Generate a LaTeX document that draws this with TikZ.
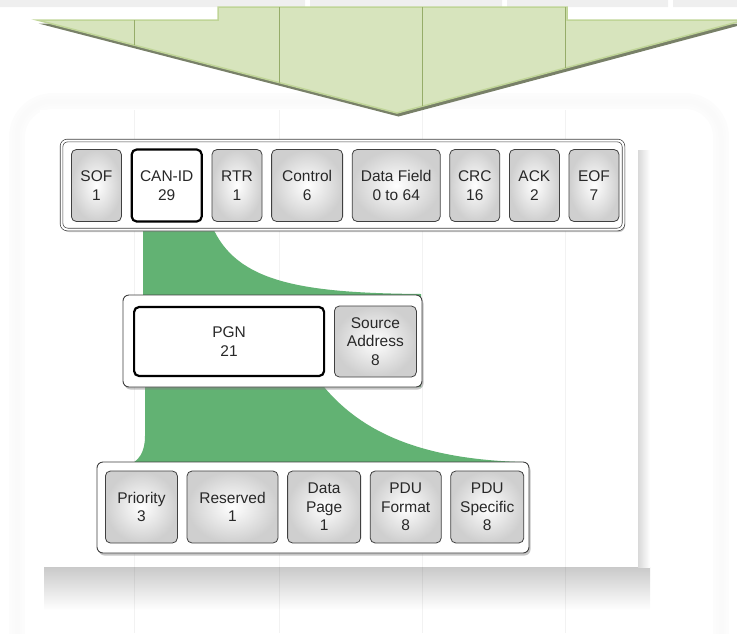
\documentclass[tikz,border=0pt]{standalone}
\usepackage{fontspec}
\setmainfont{Liberation Sans}
\usetikzlibrary{positioning, shadows}
\definecolor{bandGrey}{RGB}{239, 239, 239}
\definecolor{arrowFill}{RGB}{215, 228, 189}
\definecolor{arrowEdge}{RGB}{192, 213, 152}
\definecolor{arrowLine}{RGB}{150, 172, 105}
\definecolor{arrowShadow}{RGB}{120, 128, 104}
\definecolor{zoomGreen}{RGB}{98, 178, 115}
\definecolor{fieldText}{RGB}{40, 40, 40}

\begin{document}
\begin{tikzpicture}[
    x=1pt, y=-1pt,
    node distance=8.8pt,
    cell/.style={
        rectangle,
        rounded corners=5pt,
        align=center,
        inner sep=0pt,
        font=\fontsize{15.5}{18.5}\selectfont,
        text=fieldText
    },
    field/.style={
        cell,
        draw=black!75,
        line width=0.8pt,
        inner color=white,
        outer color=gray!38,
        minimum height=72pt
    },
    keyfield/.style={
        cell,
        draw=black,
        line width=2.2pt,
        fill=white,
        minimum height=72pt
    },
    panel/.style={
        rectangle,
        rounded corners=6pt,
        draw=black!75,
        line width=0.9pt,
        fill=white,
        drop shadow={shadow xshift=1.5pt, shadow yshift=-2.5pt, opacity=0.45}
    }
]
\useasboundingbox (0,0) rectangle (737,633);

% Slide background
\fill[bandGrey] (0,0) rectangle (305,7) (310,0) rectangle (502,7)
    (507,0) rectangle (668,7) (673,0) rectangle (737,7);
\foreach \w/\c in {16/2, 9/3, 4/4}
    \draw[gray!\c, line width=\w pt, rounded corners=36pt] (17,101) rectangle (721,700);

% Figure with its shadow
\shade[top color=gray!42, middle color=gray!14, bottom color=white] (44,567) rectangle (650,610);
\shade[left color=gray!30, right color=white] (638,150) rectangle (650,567);
\fill[white] (40,110) rectangle (638,567);
\foreach \x in {134, 279, 422, 565}
    \draw[black, opacity=0.05, line width=0.8pt] (\x,110) -- (\x,633);

% Down arrow
\fill[arrowShadow, xshift=1.5pt, yshift=-3.5pt] (37,20) -- (397,113) -- (745,20) -- cycle;
\filldraw[fill=arrowFill, draw=arrowEdge, line width=1.5pt]
    (218,7) -- (567,7) -- (567,20) -- (745,20) -- (397,113) -- (37,20) -- (218,20) -- cycle;
\begin{scope}
    \clip (218,7) -- (567,7) -- (567,20) -- (745,20) -- (397,113) -- (37,20) -- (218,20) -- cycle;
    \foreach \x in {134, 279, 422, 565}
        \draw[arrowLine, line width=0.6pt] (\x,7) -- (\x,120);
\end{scope}

% Zoom band
\fill[zoomGreen] (143,226) -- (212,226) .. controls (236,282) and (300,293) .. (421,294)
    -- (421,387) -- (324,387) .. controls (362,432) and (420,459) .. (522,462)
    -- (522,466) -- (126,466) .. controls (139,462) and (145,452) .. (145,436)
    -- (145,300) -- (143,300) -- cycle;

% Panels
\node[panel, double=white, double distance=2pt, line width=0.7pt,
      minimum width=562pt, minimum height=89pt] (canframe) at (342.5,185) {};
\node[panel, minimum width=299pt, minimum height=92pt] (idframe) at (272.5,341) {};
\node[panel, minimum width=432pt, minimum height=91pt] (pgnframe) at (313,507.5) {};

% CAN frame fields
\node[field, anchor=west, minimum width=50pt] (sof) at (71,185.5) {SOF\\1};
\node[keyfield, right=of sof, minimum width=70pt] (canid) {CAN-ID\\29};
\node[field, right=of canid, minimum width=50pt] (rtr) {RTR\\1};
\node[field, right=of rtr, minimum width=71pt] (control) {Control\\6};
\node[field, right=of control, minimum width=88pt] (data) {Data Field\\0 to 64};
\node[field, right=of data, minimum width=50pt] (crc) {CRC\\16};
\node[field, right=of crc, minimum width=50pt] (ack) {ACK\\2};
\node[field, right=of ack, minimum width=50pt] (eof) {EOF\\7};

% Identifier fields
\node[keyfield, anchor=west, minimum width=190pt, minimum height=69pt] (pgn) at (133,341.5) {PGN\\21};
\node[field, right=of pgn, minimum width=82pt, minimum height=71pt] (srcaddr) {Source\\Address\\8};

% PGN fields
\node[field, anchor=west, minimum width=72pt] (priority) at (105,507) {Priority\\3};
\node[field, right=of priority, minimum width=91pt] (reserved) {Reserved\\1};
\node[field, right=of reserved, minimum width=73pt] (datapage) {Data\\Page\\1};
\node[field, right=of datapage, minimum width=71pt] (pduformat) {PDU\\Format\\8};
\node[field, right=of pduformat, minimum width=73pt] (pduspecific) {PDU\\Specific\\8};

\end{tikzpicture}
\end{document}
